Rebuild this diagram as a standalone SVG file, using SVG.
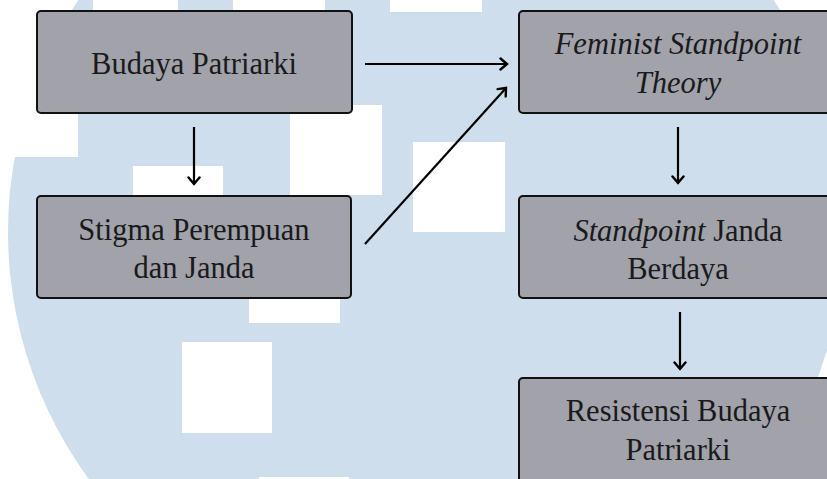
<svg xmlns="http://www.w3.org/2000/svg" width="827" height="479" viewBox="0 0 827 479">
<style>
.box{fill:#a1a2aa;stroke:#111;stroke-width:2}
.t{font-family:'Liberation Serif','DejaVu Serif','Times New Roman',Times,serif;font-size:30.5px;fill:#1a1a1a;text-anchor:middle}
.i{font-style:italic}
.c{fill:none;stroke:#000;stroke-width:2.2}
.w{fill:#fff}
</style>
<defs>
<marker id="ah" viewBox="-2 -8 11 16" refX="6.5" refY="0" markerWidth="11" markerHeight="16" markerUnits="userSpaceOnUse" orient="auto">
<path d="M0,-5.5 L6.5,0 L0,5.5" fill="none" stroke="#000" stroke-width="2.4" stroke-linecap="round" stroke-linejoin="miter"/>
</marker>
</defs>
<rect width="827" height="479" fill="#fff"/>
<g id="watermark">
<circle cx="426" cy="232" r="418" fill="#cedeed"/>
<rect class="w" x="0" y="12" width="78" height="145"/>
<rect class="w" x="93" y="0" width="85" height="100"/>
<rect class="w" x="233" y="0" width="92" height="100"/>
<rect class="w" x="290" y="105" width="92" height="90"/>
<rect class="w" x="390" y="0" width="92" height="12"/>
<rect class="w" x="133" y="166" width="90" height="90"/>
<rect class="w" x="249" y="232" width="91" height="91"/>
<rect class="w" x="182" y="342" width="90" height="91"/>
<rect class="w" x="259" y="477" width="90" height="90"/>
<rect class="w" x="413" y="142" width="92" height="90"/>
</g>
<g id="n1">
<rect class="box" x="37" y="11" width="315" height="102" rx="4"/>
<text class="t" x="194" y="74" font-family="Liberation Serif, serif">Budaya Patriarki</text>
</g>
<g id="n2">
<rect class="box" x="37" y="196" width="314" height="102" rx="4"/>
<text class="t" x="194" y="240" font-family="Liberation Serif, serif">Stigma Perempuan</text>
<text class="t" x="194" y="278" font-family="Liberation Serif, serif">dan Janda</text>
</g>
<g id="n3">
<rect class="box" x="519" y="11" width="318" height="102" rx="4"/>
<text class="t i" x="678" y="54" font-family="Liberation Serif, serif">Feminist Standpoint</text>
<text class="t i" x="678" y="93" font-family="Liberation Serif, serif">Theory</text>
</g>
<g id="n4">
<rect class="box" x="519" y="196" width="318" height="102" rx="4"/>
<text class="t" x="678" y="241" font-family="Liberation Serif, serif"><tspan class="i">Standpoint</tspan> Janda</text>
<text class="t" x="678" y="279" font-family="Liberation Serif, serif">Berdaya</text>
</g>
<g id="n5">
<rect class="box" x="519" y="378" width="318" height="110" rx="4"/>
<text class="t" x="678" y="421" font-family="Liberation Serif, serif">Resistensi Budaya</text>
<text class="t" x="678" y="460" font-family="Liberation Serif, serif">Patriarki</text>
</g>
<g id="connectors">
<line class="c" x1="365" y1="64" x2="507" y2="64" marker-end="url(#ah)"/>
<line class="c" x1="194" y1="127" x2="194" y2="184" marker-end="url(#ah)"/>
<line class="c" x1="365" y1="244" x2="506" y2="88" marker-end="url(#ah)"/>
<line class="c" x1="678" y1="127" x2="678" y2="183" marker-end="url(#ah)"/>
<line class="c" x1="680" y1="312" x2="680" y2="369" marker-end="url(#ah)"/>
</g>
</svg>
